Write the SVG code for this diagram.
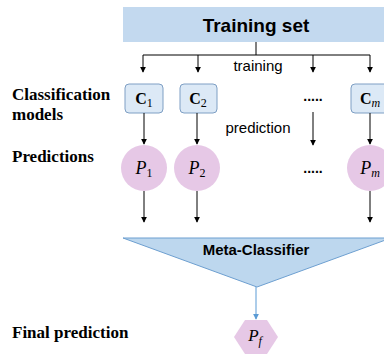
<svg xmlns="http://www.w3.org/2000/svg" width="384" height="355" viewBox="0 0 384 355">
  <defs>
    <marker id="ah" viewBox="0 0 8 8" refX="7" refY="4" markerWidth="6" markerHeight="6" markerUnits="userSpaceOnUse" orient="auto">
      <path d="M0,0 L8,4 L0,8 z" fill="#000"/>
    </marker>
    <marker id="ahb" viewBox="0 0 8 8" refX="7" refY="4" markerWidth="6" markerHeight="6" markerUnits="userSpaceOnUse" orient="auto">
      <path d="M0,0 L8,4 L0,8 z" fill="#5b9bd5"/>
    </marker>
    <style>
      .side { font-family: "Liberation Serif", serif; font-weight: bold; font-size: 17px; fill: #000; }
      .sans { font-family: "Liberation Sans", Arial, sans-serif; fill: #000; }
      .math { font-family: "Liberation Serif", serif; fill: #000; }
      .cbox { fill: #dce9f6; stroke: #7e9fc4; stroke-width: 1; }
      .pnode { fill: #e6c8e6; stroke: none; }
      .wire { stroke: #000; stroke-width: 1; fill: none; }
      .arr { stroke: #000; stroke-width: 1; fill: none; marker-end: url(#ah); }
    </style>
  </defs>

  <rect width="384" height="355" fill="#fff"/>

  <!-- left-hand stage labels -->
  <g id="labels">
    <text class="side" x="12" y="100">Classification</text>
    <text class="side" x="12" y="120">models</text>
    <text class="side" x="12" y="162">Predictions</text>
    <text class="side" x="12" y="338">Final prediction</text>
  </g>

  <g id="training-set">
    <rect x="123" y="7" width="262" height="35" fill="#c3d9ef"/>
    <text class="sans" x="256" y="32" font-size="19" font-weight="bold" text-anchor="middle">Training set</text>
  </g>

  <g id="c1">
    <rect class="cbox" x="125" y="84" width="38" height="29" rx="4"/>
    <text class="math" x="144" y="104" font-size="16" text-anchor="middle"><tspan font-weight="bold">C</tspan><tspan font-size="12" dy="3">1</tspan></text>
  </g>
  <g id="c2">
    <rect class="cbox" x="180" y="84" width="37" height="29" rx="4"/>
    <text class="math" x="198" y="104" font-size="16" text-anchor="middle"><tspan font-weight="bold">C</tspan><tspan font-size="12" dy="3">2</tspan></text>
  </g>
  <g id="cm">
    <rect class="cbox" x="351" y="84" width="38" height="29" rx="4"/>
    <text class="math" x="370" y="104" font-size="16" text-anchor="middle"><tspan font-weight="bold">C</tspan><tspan font-size="12" dy="3" font-style="italic">m</tspan></text>
  </g>

  <g id="p1">
    <circle class="pnode" cx="144" cy="168" r="23"/>
    <text class="math" x="144" y="174" font-size="18" text-anchor="middle"><tspan font-style="italic">P</tspan><tspan font-size="12" dy="3">1</tspan></text>
  </g>
  <g id="p2">
    <circle class="pnode" cx="197" cy="168" r="23"/>
    <text class="math" x="197" y="174" font-size="18" text-anchor="middle"><tspan font-style="italic">P</tspan><tspan font-size="12" dy="3">2</tspan></text>
  </g>
  <g id="pm">
    <circle class="pnode" cx="370" cy="168" r="23"/>
    <text class="math" x="370" y="174" font-size="18" text-anchor="middle"><tspan font-style="italic">P</tspan><tspan font-size="12" dy="3" font-style="italic">m</tspan></text>
  </g>

  <g id="ellipsis">
    <text class="sans" x="313" y="101" font-size="14" font-weight="bold" text-anchor="middle">.....</text>
    <text class="sans" x="313" y="173" font-size="14" font-weight="bold" text-anchor="middle">.....</text>
  </g>

  <g id="meta-classifier">
    <polygon points="123,238 391,238 257,287" fill="#bdd7ee" stroke="#6d9fd0" stroke-width="1"/>
    <text class="sans" x="256" y="255" font-size="15" font-weight="bold" text-anchor="middle">Meta-Classifier</text>
  </g>

  <g id="pf">
    <polygon points="245,320 267,320 278,337 267,354 245,354 234,337" fill="#e6c8e6"/>
    <text class="math" x="255" y="341" font-size="17" text-anchor="middle"><tspan font-style="italic">P</tspan><tspan font-size="12" dy="4" font-style="italic">f</tspan></text>
  </g>

  <g id="connectors">
    <path class="wire" d="M256,42 V55 M143,55 H370"/>
    <path class="arr" d="M143,55 V72"/>
    <path class="arr" d="M198,55 V72"/>
    <path class="arr" d="M313,55 V72"/>
    <path class="arr" d="M370,55 V72"/>
    <text class="sans" x="258" y="71" font-size="15" text-anchor="middle">training</text>

    <path class="arr" d="M144,113 V144"/>
    <path class="arr" d="M197,113 V144"/>
    <path class="arr" d="M313,112 V145"/>
    <path class="arr" d="M370,113 V144"/>
    <text class="sans" x="258" y="133" font-size="15" text-anchor="middle">prediction</text>

    <path class="arr" d="M144,191 V222"/>
    <path class="arr" d="M197,191 V222"/>
    <path class="arr" d="M370,191 V222"/>

    <path d="M256,287 V319" stroke="#5b9bd5" stroke-width="1" fill="none" marker-end="url(#ahb)"/>
  </g>
</svg>
